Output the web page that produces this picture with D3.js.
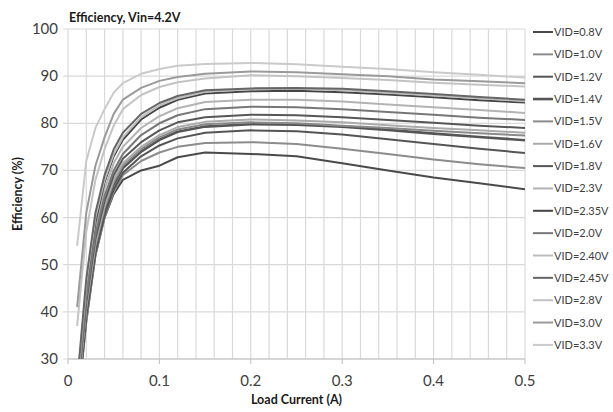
<!DOCTYPE html>
<html>
<head>
<meta charset="utf-8">
<script src="https://cdn.jsdelivr.net/npm/d3@7"></script>
<style>
  body { margin: 0; background: #fff; }
  #chart { width: 613px; height: 412px; }
  text { font-family: Lato, "Liberation Sans", sans-serif; }
</style>
</head>
<body>
<div id="chart"></div>
<script>
// Messpunkte Laststrom (A)
const loadCurrent = [0.01, 0.02, 0.03, 0.04, 0.05, 0.06, 0.08, 0.1, 0.12, 0.15, 0.2, 0.25, 0.3, 0.35, 0.4, 0.45, 0.5];

// Legendenreihenfolge wie im Original
const vidNames = ["VID=0.8V", "VID=1.0V", "VID=1.2V", "VID=1.4V", "VID=1.5V", "VID=1.6V", "VID=1.8V",
  "VID=2.3V", "VID=2.35V", "VID=2.0V", "VID=2.40V", "VID=2.45V", "VID=2.8V", "VID=3.0V", "VID=3.3V"];

// Wirkungsgrad (%) je Reihe
const eff08  = [19, 38, 52, 60, 65, 68, 70, 71, 72.8, 73.8, 73.5, 73, 71.5, 70, 68.5, 67.3, 66];
const eff10  = [19, 38, 52, 60, 65.5, 69, 72, 73.8, 75, 75.8, 76, 75.6, 74.6, 73.5, 72.3, 71.3, 70.5];
const eff12  = [20, 39, 52.5, 60.5, 66, 69.5, 73, 75.3, 76.8, 78, 78.5, 78.3, 77.6, 76.6, 75.6, 74.6, 73.7];
const eff14  = [20, 40, 53.5, 61.5, 67, 70.5, 74, 76.5, 78.2, 79.3, 79.8, 79.7, 79.3, 78.6, 77.8, 77.1, 76.4];
const eff15  = [21, 41, 54, 62, 67.5, 71, 74.5, 77, 78.7, 79.8, 80.2, 80, 79.5, 79, 78.4, 77.9, 77.4];
const eff16  = [21, 41, 54.5, 62.5, 68, 71.5, 75, 77.5, 79.2, 80.3, 80.8, 80.6, 80.2, 79.6, 79, 78.5, 78];
const eff18  = [22, 42, 55.5, 63.5, 69, 72.5, 76, 78.5, 80.2, 81.3, 81.8, 81.7, 81.3, 80.7, 80.1, 79.5, 79];
const eff23  = [24, 45, 58, 66, 71.5, 75, 79, 81.5, 83.2, 84.5, 85, 85, 84.6, 84, 83.4, 82.8, 82.2];
const eff235 = [23, 45, 59, 67.5, 73, 76.5, 80.8, 83.3, 85, 86.3, 86.8, 86.9, 86.6, 86.1, 85.5, 84.9, 84.4];
const eff20  = [22, 43, 56.5, 64.5, 70, 73.5, 77.5, 80, 81.7, 83, 83.5, 83.4, 83, 82.4, 81.8, 81.2, 80.7];
const eff240 = [24, 46, 60, 68, 73.5, 77, 81.3, 83.8, 85.3, 86.7, 87.2, 87.3, 87, 86.5, 85.9, 85.3, 84.7];
const eff245 = [25, 47, 61, 69, 74.5, 78, 82, 84.3, 85.8, 87, 87.4, 87.5, 87.3, 86.8, 86.2, 85.6, 85];
const eff28  = [37, 57, 68, 74.5, 79.5, 83, 86, 87.7, 88.7, 89.5, 90.2, 90, 89.6, 89.2, 88.6, 88.2, 87.8];
const eff30  = [41, 61, 71, 77, 82, 85, 87.5, 89, 89.8, 90.5, 91, 90.8, 90.4, 90, 89.3, 88.9, 88.5];
const eff33  = [54, 72, 79, 83, 86.5, 88.5, 90.5, 91.5, 92.2, 92.6, 92.8, 92.5, 92, 91.5, 90.8, 90.3, 89.7];

const vidValues = [eff08, eff10, eff12, eff14, eff15, eff16, eff18, eff23, eff235, eff20, eff240, eff245, eff28, eff30, eff33];

// Grautöne der Reihen
const vidColors = ["#4a4a4a", "#8c8c8c", "#555555", "#555555", "#8a8a8a", "#ababab", "#575757",
  "#b3b3b3", "#454545", "#777777", "#bdbdbd", "#666666", "#c3c3c3", "#9a9a9a", "#cacaca"];

const xTicks = [0, 0.1, 0.2, 0.3, 0.4, 0.5];
const yTicks = [30, 40, 50, 60, 70, 80, 90, 100];

const width = 613, height = 412;
const margin = { left: 68, right: 88, top: 29, bottom: 53 };

const svg = d3.select("#chart").append("svg")
  .attr("width", width)
  .attr("height", height);

const x = d3.scaleLinear()
  .domain([0, 0.5])
  .range([margin.left, width - margin.right]);

const y = d3.scaleLinear()
  .domain([30, 100])
  .range([height - margin.bottom, margin.top]);

// Gitterlinien
svg.append("g")
  .selectAll("line")
  .data(d3.range(0, 26).map(i => i * 0.02))
  .enter()
  .append("line")
  .attr("x1", d => x(d)).attr("x2", d => x(d))
  .attr("y1", y(30)).attr("y2", y(100))
  .attr("stroke", "#d9d9d9")
  .attr("stroke-width", 1.2);

svg.append("g")
  .selectAll("line")
  .data(yTicks)
  .enter()
  .append("line")
  .attr("x1", x(0) - 5).attr("x2", x(0.5))
  .attr("y1", d => y(d)).attr("y2", d => y(d))
  .attr("stroke", "#d9d9d9")
  .attr("stroke-width", 1.2);

// Achse unten
svg.append("line")
  .attr("x1", x(0)).attr("x2", x(0.5))
  .attr("y1", y(30)).attr("y2", y(30))
  .attr("stroke", "#bfbfbf");

svg.append("g")
  .selectAll("line")
  .data(xTicks)
  .enter()
  .append("line")
  .attr("x1", d => x(d)).attr("x2", d => x(d))
  .attr("y1", y(30)).attr("y2", y(30) + 5)
  .attr("stroke", "#bfbfbf");

svg.append("g")
  .selectAll("text")
  .data(xTicks)
  .enter()
  .append("text")
  .attr("x", d => x(d))
  .attr("y", y(30) + 27)
  .attr("text-anchor", "middle")
  .style("font-size", "15px")
  .style("fill", "#404040")
  .text(d => d === 0 ? "0" : d.toString());

svg.append("g")
  .selectAll("text")
  .data(yTicks)
  .enter()
  .append("text")
  .attr("x", x(0) - 10)
  .attr("y", d => y(d) + 5)
  .attr("text-anchor", "end")
  .style("font-size", "15px")
  .style("fill", "#404040")
  .text(d => d);

// Kurven, auf Plotbereich beschnitten
svg.append("clipPath")
  .attr("id", "plot-clip")
  .append("rect")
  .attr("x", x(0)).attr("y", y(100))
  .attr("width", x(0.5) - x(0))
  .attr("height", y(30) - y(100));

const line = d3.line()
  .x((d, i) => x(loadCurrent[i]))
  .y(d => y(d));

// Reihen in Legendenreihenfolge zeichnen
svg.append("g")
  .attr("clip-path", "url(#plot-clip)")
  .selectAll("path")
  .data(vidValues)
  .enter()
  .append("path")
  .attr("d", d => line(d))
  .attr("fill", "none")
  .attr("stroke", (d, i) => vidColors[i])
  .attr("stroke-width", (d, i) => i === 3 ? 2.6 : 2)
  .attr("stroke-linejoin", "round");

// Legende
const legend = svg.append("g")
  .selectAll("g")
  .data(vidNames)
  .enter()
  .append("g")
  .attr("transform", (d, i) => `translate(533,${32 + i * 22.35})`);

legend.append("line")
  .attr("x1", 0).attr("x2", 20)
  .attr("stroke", (d, i) => vidColors[i])
  .attr("stroke-width", (d, i) => i === 3 ? 2.6 : 2);

legend.append("text")
  .attr("x", 21)
  .attr("y", 4)
  .style("font-size", "11px")
  .style("fill", "#404040")
  .text(d => d);

// Titel und Achsenbeschriftungen
svg.append("text")
  .attr("x", 69)
  .attr("y", 22)
  .style("font-size", "12.5px")
  .style("font-weight", "bold")
  .style("fill", "#1a1a1a")
  .text("Efficiency, Vin=4.2V");

svg.append("text")
  .attr("transform", `translate(22,${(y(30) + y(100)) / 2}) rotate(-90)`)
  .attr("text-anchor", "middle")
  .style("font-size", "12.5px")
  .style("font-weight", "bold")
  .style("fill", "#1a1a1a")
  .text("Efficiency (%)");

svg.append("text")
  .attr("x", (x(0) + x(0.5)) / 2)
  .attr("y", 404)
  .attr("text-anchor", "middle")
  .style("font-size", "12.5px")
  .style("font-weight", "bold")
  .style("fill", "#1a1a1a")
  .text("Load Current (A)");
</script>
</body>
</html>
